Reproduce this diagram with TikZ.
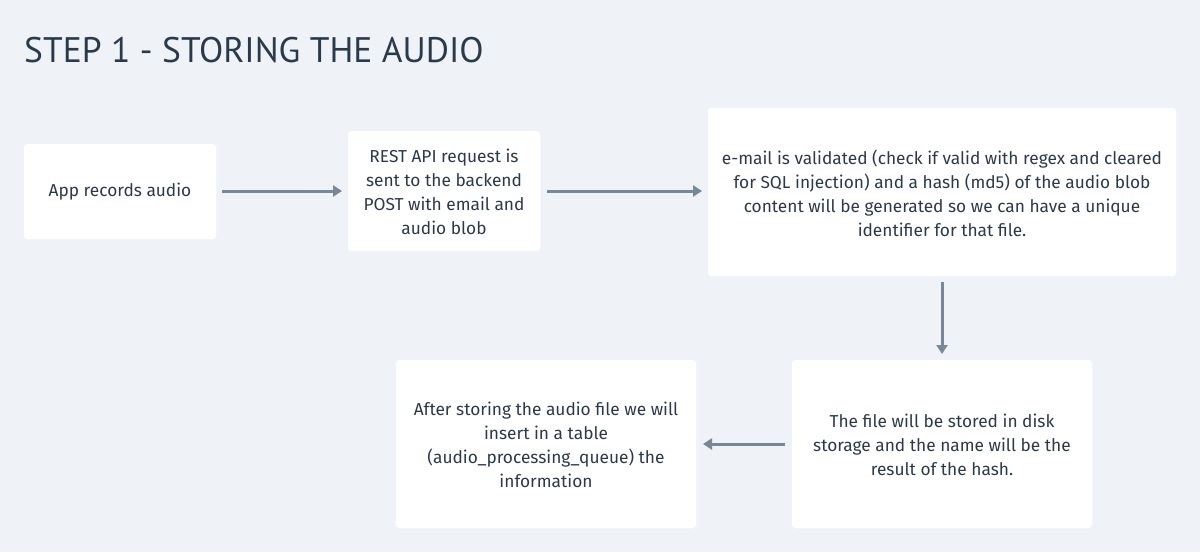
\documentclass[tikz,border=0pt]{standalone}
\usepackage{fontspec}
\setmainfont{PT Sans}
\newfontfamily\bodyfont{Fira Sans}
\usetikzlibrary{arrows.meta}
\definecolor{pagebg}{HTML}{EFF3F7}
\definecolor{inktext}{HTML}{2B3A4A}
\definecolor{flowline}{HTML}{778899}
\begin{document}
\begin{tikzpicture}[x=1pt,y=-1pt,
  card/.style={fill=white,draw=none,rounded corners=3pt,inner sep=0pt},
  cardtext/.style={align=center,text=inktext,font=\bodyfont\fontsize{17.3}{24}\selectfont},
  flow/.style={draw=flowline,line width=3pt,-{Triangle[width=11pt,length=9pt]}}]
  % canvas
  \fill[pagebg] (0,0) rectangle (1200,552);
  \useasboundingbox (0,0) rectangle (1200,552);
  % heading
  \node[anchor=base west,inner sep=0pt,text=inktext,font=\fontsize{35.5}{40}\selectfont] (title) at (24,62) {STEP 1 - STORING THE AUDIO};
  % cards
  \path[card] (24,144) rectangle (216,239);
  \coordinate (c1) at (120,192);
  \path[card] (348,131) rectangle (540,251);
  \coordinate (c2) at (444,192);
  \path[card] (708,108) rectangle (1176,276);
  \coordinate (c3) at (942,193);
  \path[card] (792,360) rectangle (1092,528);
  \coordinate (c4) at (942,445);
  \path[card] (396,360) rectangle (696,528);
  \coordinate (c5) at (546,445);
  % card texts
  \node[cardtext] (t1) at (c1) {App records audio};
  \node[cardtext] (t2) at (c2) {REST API request is\\sent to the backend\\POST with email and\\audio blob};
  \node[cardtext] (t3) at (c3) {e-mail is validated (check if valid with regex and cleared\\for SQL injection) and a hash (md5) of the audio blob\\content will be generated so we can have a unique\\identifier for that file.};
  \node[cardtext] (t4) at (c4) {The file will be stored in disk\\storage and the name will be the\\result of the hash.};
  \node[cardtext] (t5) at (c5) {After storing the audio file we will\\insert in a table\\(audio\_processing\_queue) the\\information};
  % connectors
  \coordinate (a1s) at (222,191); \coordinate (a1e) at (342,191);
  \coordinate (a2s) at (547,191); \coordinate (a2e) at (702,191);
  \coordinate (a3s) at (942,282); \coordinate (a3e) at (942,354);
  \coordinate (a4s) at (785,444); \coordinate (a4e) at (703,444);
  \draw[flow] (a1s) -- (a1e);
  \draw[flow] (a2s) -- (a2e);
  \draw[flow] (a3s) -- (a3e);
  \draw[flow] (a4s) -- (a4e);
\end{tikzpicture}
\end{document}
